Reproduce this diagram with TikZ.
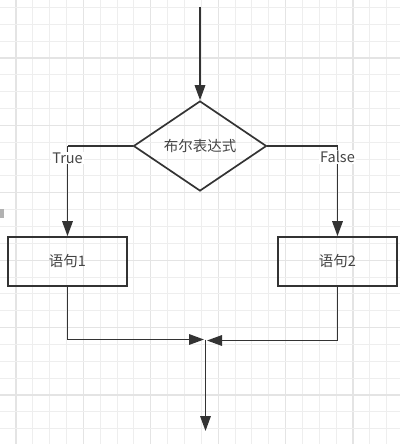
\documentclass[tikz,border=0pt]{standalone}
\usepackage{fontspec}
\setmainfont{Noto Sans CJK SC}
\usetikzlibrary{shapes.geometric,arrows.meta}
\definecolor{linec}{HTML}{333333}
\definecolor{textc}{HTML}{444444}
\definecolor{gridminor}{HTML}{EEEEEE}
\definecolor{gridmajor}{HTML}{E4E4E4}
\tikzset{
  flow/.style={draw=linec, line width=1.7pt, -{Triangle[length=15pt,width=10.5pt]}},
  plain/.style={draw=linec, line width=1.7pt},
  decision/.style={diamond, draw=linec, line width=1.7pt, minimum width=133pt, minimum height=90pt, inner sep=0pt, text=textc, font=\fontsize{14.5pt}{16pt}\selectfont},
  stmt/.style={rectangle, draw=linec, line width=1.7pt, minimum width=119pt, minimum height=49pt, inner sep=0pt, text=textc, font=\fontsize{14.5pt}{16pt}\selectfont},
  lbl/.style={fill=white, inner sep=1pt, text=textc, font=\fontsize{14.5pt}{16pt}\selectfont},
}
\begin{document}
\begin{tikzpicture}[x=1pt,y=-1pt]
\path[use as bounding box, fill=white] (0,0) rectangle (400,444);
% grid
\foreach \i in {0,...,24}{
  \pgfmathsetmacro{\gx}{-0.85+16.85*\i}
  \pgfmathtruncatemacro{\m}{mod(\i,4)}
  \ifnum\m=1
    \draw[gridmajor, line width=1.2pt] (\gx,0) -- (\gx,444);
  \else
    \draw[gridminor, line width=1pt] (\gx,0) -- (\gx,444);
  \fi
}
\foreach \j in {0,...,26}{
  \pgfmathsetmacro{\gy}{7.45+16.85*\j}
  \pgfmathtruncatemacro{\m}{mod(\j,4)}
  \ifnum\m=3
    \draw[gridmajor, line width=1.2pt] (0,\gy) -- (400,\gy);
  \else
    \draw[gridminor, line width=1pt] (0,\gy) -- (400,\gy);
  \fi
}
\fill[gray!60] (0,209) rectangle (4,218);
% nodes
\node[decision] (d) at (200,146) {布尔表达式};
\node[stmt] (s1) at (67.5,261.5) {语句1};
\node[stmt] (s2) at (337.5,261.5) {语句2};
\coordinate (start) at (200,7);
\coordinate (cl) at (67.5,146);
\coordinate (cr) at (337.5,146);
\coordinate (ml) at (204,339.5);
\coordinate (mr) at (207,340.5);
\coordinate (mo) at (205.5,339.5);
\coordinate (end) at (205.5,431);
% connectors
\draw[flow] (start) -- (d.north);
\draw[plain] (d.west) -- (cl);
\draw[flow] (cl) -- (s1.north);
\draw[plain] (d.east) -- (cr);
\draw[flow] (cr) -- (s2.north);
\node[lbl] (tl) at (67.5,158) {True};
\node[lbl] (fl) at (337.5,157) {False};
\draw[flow] (s1.south) |- (ml);
\draw[flow] (s2.south) |- (mr);
\draw[flow] (mo) -- (end);
\end{tikzpicture}
\end{document}
